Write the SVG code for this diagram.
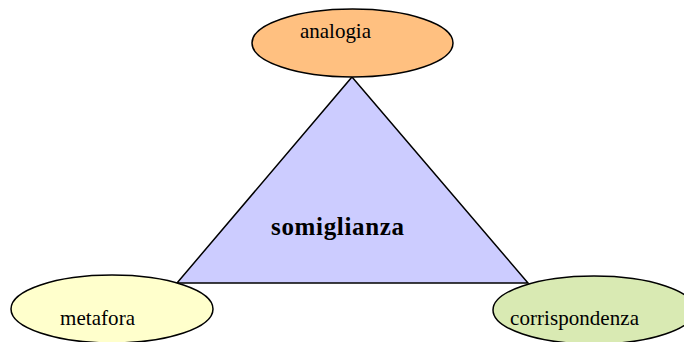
<svg xmlns="http://www.w3.org/2000/svg" width="684" height="342" viewBox="0 0 684 342">
<style>
.n{stroke:#000;stroke-width:1.5}
.t{font-family:"Liberation Serif","Times New Roman",serif;font-size:21px;fill:#000}
.b{font-family:"Liberation Serif","Times New Roman",serif;font-size:25px;font-weight:bold;fill:#000}
</style>
<rect width="684" height="342" fill="#fff"/>
<g id="somiglianza">
<polygon class="n" points="352,77 528,283 177,283" fill="#ccccff"/>
<text class="b" x="271" y="235" textLength="133" lengthAdjust="spacing">somiglianza</text>
</g>
<g id="analogia">
<ellipse class="n" cx="352.5" cy="43" rx="100.5" ry="34" fill="#ffc080"/>
<text class="t" x="300" y="38" textLength="71" lengthAdjust="spacing">analogia</text>
</g>
<g id="metafora">
<ellipse class="n" cx="112" cy="309" rx="101" ry="34" fill="#ffffcc"/>
<text class="t" x="60" y="325" textLength="75" lengthAdjust="spacing">metafora</text>
</g>
<g id="corrispondenza">
<ellipse class="n" cx="594" cy="310" rx="101" ry="34" fill="#d9eab3"/>
<text class="t" x="510" y="325" textLength="129" lengthAdjust="spacing">corrispondenza</text>
</g>
<g id="connectors"></g>
</svg>
